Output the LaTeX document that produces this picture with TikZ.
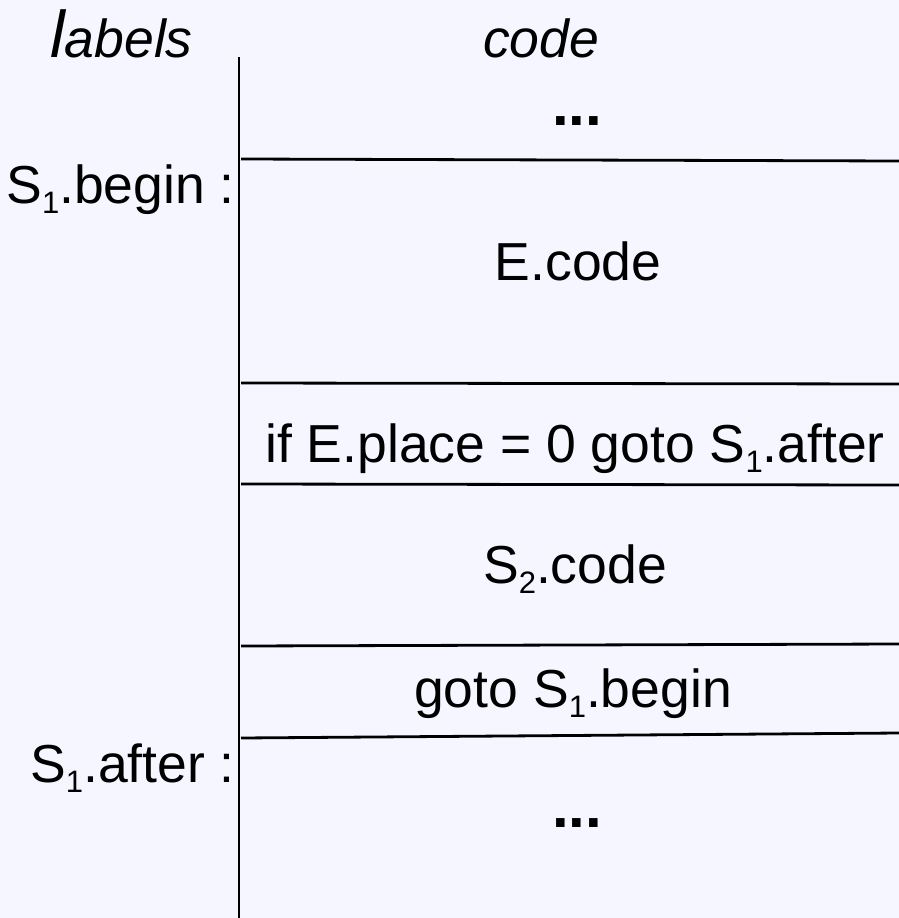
\documentclass[tikz,border=0pt]{standalone}
\usepackage{fontspec}
\setmainfont{Liberation Sans}
\definecolor{pagebg}{RGB}{245,246,255}
\newcommand{\subone}[1]{\raisebox{-0.2em}{\fontsize{31}{31}\selectfont #1}}
\begin{document}
\begin{tikzpicture}[x=1pt,y=-1pt,
  txt/.style={inner sep=0pt, font=\fontsize{53.5}{60}\selectfont, text=black},
  dots/.style={inner sep=0pt, font=\fontsize{60}{60}\selectfont\bfseries, text=black},
  rule/.style={line width=2.8pt, draw=black}]
\useasboundingbox (0,0) rectangle (899,918);
\fill[pagebg] (0,0) rectangle (899,918);

% column headers
\node[txt, anchor=base west] (hlabels) at (50,57)
  {\itshape{\fontsize{66}{70}\selectfont l}abels};
\node[txt, anchor=base west] (hcode) at (483,57) {\itshape code};

% label column separator
\draw[rule] (239,57) -- (239,918);

% code block dividers
\draw[rule] (241,159) -- (899,161);
\draw[rule] (241,383) -- (899,384);
\draw[rule] (241,484) -- (899,485);
\draw[rule] (241,646) -- (899,644);
\draw[rule] (241,738) -- (899,733);

% code cells
\node[dots, anchor=base] (dotstop) at (577,125) {...};
\node[txt, anchor=base] (ecode) at (578,280) {E.code};
\node[txt, anchor=base] (test) at (575,462) {if E.place = 0 goto S\subone{1}.after};
\node[txt, anchor=base] (s2code) at (575,583) {S\subone{2}.code};
\node[txt, anchor=base] (jump) at (573,707) {goto S\subone{1}.begin};
\node[dots, anchor=base] (dotsbot) at (577,827) {...};

% labels
\node[txt, anchor=base east] (lbegin) at (235,203) {S\subone{1}.begin :};
\node[txt, anchor=base east] (lafter) at (235,782) {S\subone{1}.after :};
\end{tikzpicture}
\end{document}
